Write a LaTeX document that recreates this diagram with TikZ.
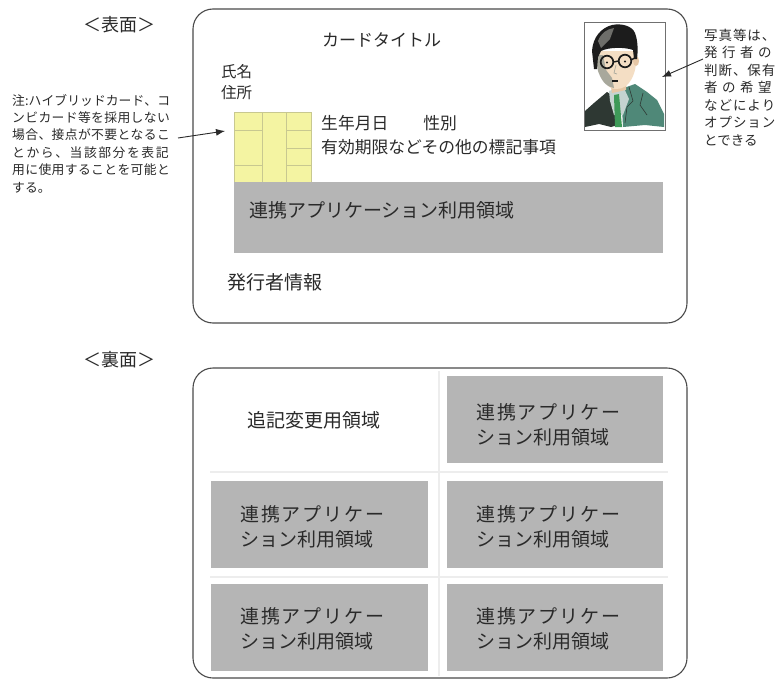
\documentclass[tikz,border=0pt]{standalone}
\usepackage{fontspec}
\setmainfont{Noto Sans CJK JP}
\usetikzlibrary{arrows.meta}

\definecolor{ink}{HTML}{2A2A2A}
\definecolor{cardline}{HTML}{4A4A4A}
\definecolor{zone}{HTML}{B5B5B5}
\definecolor{chipfill}{HTML}{F4F4A2}
\definecolor{chipline}{HTML}{C8C890}
\definecolor{faint}{HTML}{EDEDED}
\definecolor{hair}{HTML}{1C1C1C}
\definecolor{hairlight}{HTML}{6E6E6A}
\definecolor{skin}{HTML}{F4DEC4}
\definecolor{skinshade}{HTML}{A8A89C}
\definecolor{neck}{HTML}{E6C7A6}
\definecolor{suit}{HTML}{4F8878}
\definecolor{suitdark}{HTML}{2E3833}
\definecolor{shirt}{HTML}{C5D3D0}
\definecolor{tie}{HTML}{3E9A58}
\definecolor{frame}{HTML}{707070}

% spread the characters of a line evenly over a given width
\ExplSyntaxOn
\NewDocumentCommand\spreadto{mm}{\makebox[#1][l]{\tl_map_inline:nn{#2}{##1\hfil}\unskip}}
\ExplSyntaxOff

\begin{document}
\begin{tikzpicture}[x=1pt,y=-1pt,
  card/.style={draw=cardline, line width=1.1pt, rounded corners=20pt, fill=white, inner sep=0pt},
  zonebox/.style={fill=zone, inner sep=0pt},
  lbl/.style={inner sep=0pt, anchor=west, text=ink},
  big/.style={lbl, font=\fontsize{19}{19}\selectfont},
  mid/.style={lbl, font=\fontsize{16.8}{16.8}\selectfont},
  pointer/.style={draw=ink, line width=0.9pt, -{Latex[length=9pt,width=7pt]}},
]
\fill[white] (0,0) rectangle (782,680);
\useasboundingbox (0,0) rectangle (782,680);

% ---------------- front side ----------------
\node[lbl, font=\fontsize{18}{18}\selectfont] (frontlabel) at (83,25) {＜表面＞};
\node[card, minimum width=494pt, minimum height=314pt] (front) at (440,166) {};

\node[lbl, font=\fontsize{17}{17}\selectfont] (title) at (322,40) {カードタイトル};
\node[lbl, font=\fontsize{15.5}{15.5}\selectfont] (name) at (221,72) {氏名};
\node[lbl, font=\fontsize{15.5}{15.5}\selectfont] (addr) at (221,93) {住所};

% contact chip
\node[draw=chipline, fill=chipfill, line width=0.6pt, minimum width=77pt, minimum height=70pt, inner sep=0pt] (chip) at (272.5,147) {};
\draw[chipline, line width=0.6pt]
  (262,112) -- (262,182) (286,112) -- (286,182)
  (234,130) -- (262,130) (234,165) -- (262,165)
  (286,130) -- (311,130) (286,148) -- (311,148) (286,165) -- (311,165);

\node[mid] (birth) at (321,123) {生年月日\hspace{35pt}性別};
\node[mid] (expiry) at (321,147) {有効期限などその他の標記事項};

\node[zonebox, minimum width=429pt, minimum height=71pt] (band) at (448.5,217.5) {};
\node[big] (bandtext) at (249,210) {連携アプリケーション利用領域};

\node[big] (issuer) at (227,282) {発行者情報};

% portrait
\node[inner sep=0pt, minimum width=80pt, minimum height=107pt] (photo) at (625,76.5) {};
\begin{scope}[shift={(585,23)}]
  \clip (0,0) rectangle (80,107);
  % jacket, dark side
  \fill[suitdark] (0,88) -- (9,80) -- (22,69) -- (30,74) -- (33,102) -- (26,104) -- (14,101) -- (0,104) -- cycle;
  % jacket, lit side
  \fill[suit] (36,66) -- (50,61) -- (62,69) -- (72,77) -- (79,91) -- (79,104) -- (60,102) -- (38,104) -- cycle;
  \draw[suitdark, line width=0.6pt] (44,64) -- (48,78) -- (42,84) -- (40,100);
  \draw[suitdark, line width=0.6pt] (58,70) -- (55,82) -- (62,92);
  % shirt and tie
  \fill[shirt] (24,68) -- (38,63) -- (44,76) -- (38,92) -- (29,92) -- (25,78) -- cycle;
  \fill[tie] (29,72) -- (34,71) -- (37,104) -- (30,104) -- cycle;
  % neck
  \fill[neck] (25,58) -- (42,55) -- (41,67) -- (27,70) -- cycle;
  % face
  \fill[skin] (11,28) to[out=-90,in=120] (21,60) to[out=-60,in=180] (31,66)
    to[out=0,in=-120] (46,57) to[out=60,in=-90] (51,28) -- cycle;
  \fill[skinshade] (10,32) -- (13,48) to[out=-70,in=170] (29,65) -- (27,55) -- (21,47) -- (18,32) -- cycle;
  % ear
  \fill[neck] (51,38) ellipse [x radius=3pt, y radius=5pt];
  % hair
  \fill[hair] (9,46) -- (7,28) .. controls (8,14) and (16,5) .. (27,2)
    .. controls (37,0) and (47,3) .. (50,10) .. controls (53,18) and (53,28) .. (52,36)
    -- (49,36) -- (48,27) .. controls (40,24) and (24,24) .. (16,28) -- (13,34) -- (12,46) -- cycle;
  \fill[hairlight] (13,18) .. controls (16,10) and (22,6) .. (29,5) -- (25,16) -- (16,25) -- cycle;
  % glasses
  \draw[hair, line width=1.7pt] (22,39) circle (6.3pt) (40,38) circle (6.3pt);
  \draw[hair, line width=1.4pt] (28.3,39) -- (33.7,38) (46.3,37) -- (51,34);
  \fill[hair] (22,39.5) circle (1.2pt) (40,38.5) circle (1.2pt);
  % nose and mouth
  \draw[skinshade, line width=0.7pt] (31,42) -- (29,50) -- (32,51);
  \fill[hair] (27,57) rectangle (33,58.6);
\end{scope}
\draw[frame, line width=0.8pt] (photo.north west) rectangle (photo.south east);

% notes and pointers of the front side
\node[lbl, align=left, font=\fontsize{13.5}{17.5}\selectfont] (photonote) at (704,87.5)
  {\spreadto{72pt}{写真等は、}\\\spreadto{72pt}{発行者の}\\\spreadto{72pt}{判断、保有}\\
   \spreadto{72pt}{者の希望}\\\spreadto{72pt}{などにより}\\\spreadto{72pt}{オプション}\\とできる};
\coordinate (photoTail) at (703,59);
\coordinate (photoTip) at (662,77);
\draw[pointer] (photoTail) -- (photoTip);

\node[lbl, align=left, font=\fontsize{12.8}{17.4}\selectfont] (chipnote) at (12,143.5)
  {\spreadto{158pt}{注:ハイブリッドカード、コ}\\\spreadto{158pt}{ンビカード等を採用しない}\\
   \spreadto{158pt}{場合、接点が不要となるこ}\\\spreadto{158pt}{とから、当該部分を表記}\\
   \spreadto{158pt}{用に使用することを可能と}\\する。};
\coordinate (chipTail) at (178,138);
\coordinate (chipTip) at (225,131);
\draw[pointer] (chipTail) -- (chipTip);

% ---------------- back side ----------------
\node[lbl, font=\fontsize{18}{18}\selectfont] (backlabel) at (83,360) {＜裏面＞};
\node[card, minimum width=494pt, minimum height=310pt] (back) at (440,523) {};

% light division of the back into areas
\draw[faint, line width=1.2pt] (439,371) -- (439,676) (210,472) -- (668,472) (210,577) -- (668,577);

\node[zonebox, minimum width=216pt, minimum height=87pt] (zoneA) at (555,419.5) {};
\node[zonebox, minimum width=217pt, minimum height=87pt] (zoneB) at (319.5,524.5) {};
\node[zonebox, minimum width=216pt, minimum height=87pt] (zoneC) at (555,524.5) {};
\node[zonebox, minimum width=217pt, minimum height=87pt] (zoneD) at (319.5,627.5) {};
\node[zonebox, minimum width=216pt, minimum height=87pt] (zoneE) at (555,627.5) {};

\node[big] (append) at (247,420) {追記変更用領域};

\node[big] (zoneAa) at (476,412) {\addfontfeature{LetterSpace=10}連携アプリケー};
\node[big] (zoneAb) at (476,437) {ション利用領域};
\node[big] (zoneBa) at (240,514) {\addfontfeature{LetterSpace=10}連携アプリケー};
\node[big] (zoneBb) at (240,539) {ション利用領域};
\node[big] (zoneCa) at (476,514) {\addfontfeature{LetterSpace=10}連携アプリケー};
\node[big] (zoneCb) at (476,539) {ション利用領域};
\node[big] (zoneDa) at (240,616) {\addfontfeature{LetterSpace=10}連携アプリケー};
\node[big] (zoneDb) at (240,641) {ション利用領域};
\node[big] (zoneEa) at (476,616) {\addfontfeature{LetterSpace=10}連携アプリケー};
\node[big] (zoneEb) at (476,641) {ション利用領域};
\end{tikzpicture}
\end{document}
